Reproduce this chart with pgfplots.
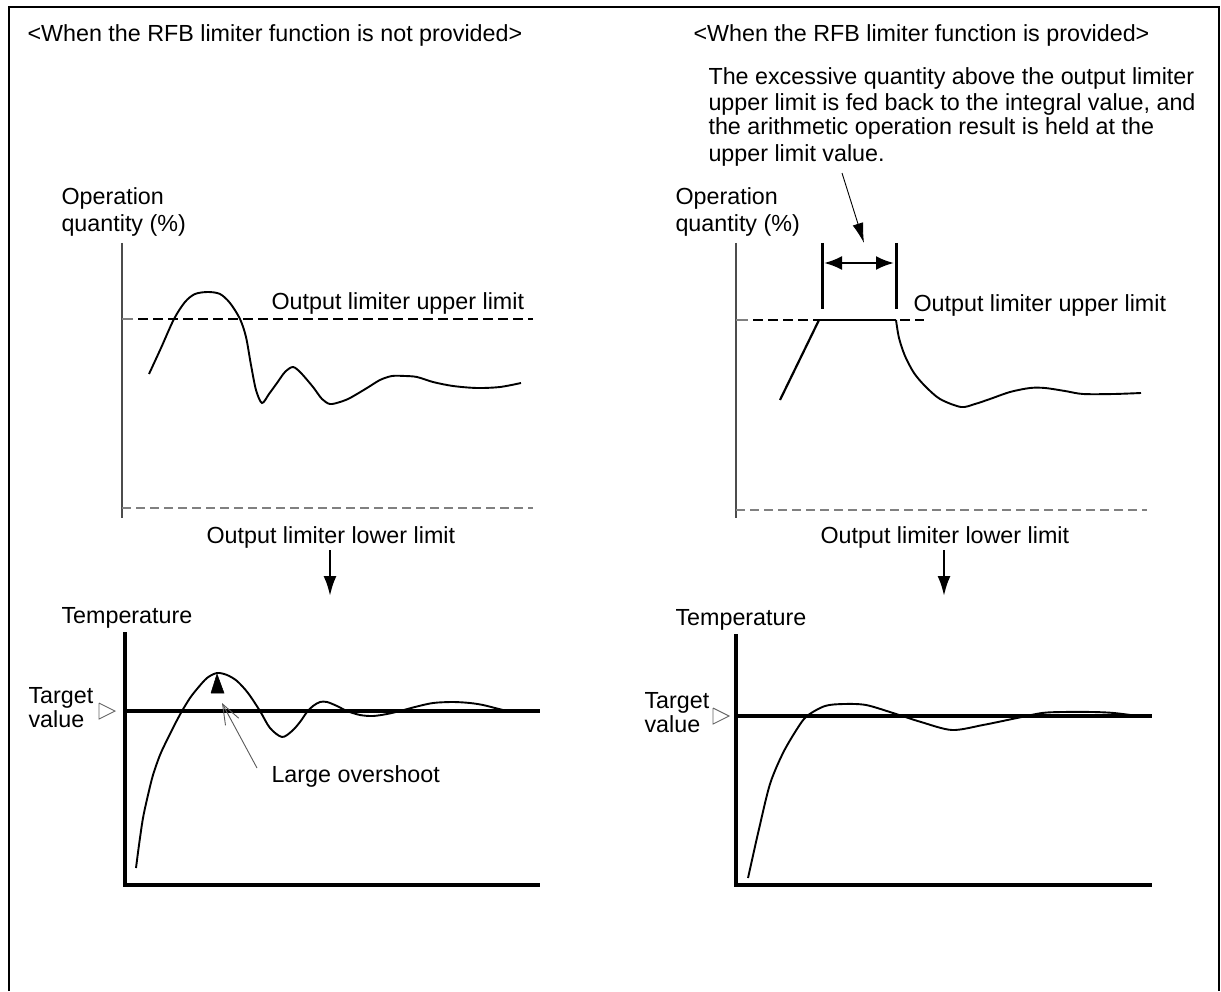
\documentclass[border=0pt]{standalone}
\usepackage{fontspec}
\setmainfont{Liberation Sans}
\usepackage{pgfplots}
\pgfplotsset{compat=1.18}
\usetikzlibrary{arrows.meta}
\newcommand\F{\fontsize{23.3pt}{25.6pt}\selectfont}
\begin{document}
\begin{tikzpicture}
\begin{axis}[x=1pt,y=1pt,y dir=reverse,xmin=0,xmax=1221,ymin=0,ymax=991,
  hide axis,clip=false,scale only axis,anchor=south west,at={(0,0)},
  every axis plot/.append style={mark=none}]
\addplot[draw=none] coordinates {(0,0)(1221,991)};
% frame
\addplot[black,line width=2pt] coordinates {(9,991)(9,7)(1219,7)(1219,991)};
% ---------- titles ----------
\node[anchor=base west,font=\F] at (axis cs:24,42) {<When the RFB limiter function is not provided>};
\node[anchor=base west,font=\F] at (axis cs:690,42) {<When the RFB limiter function is provided>};
\node[anchor=base west,font=\F] at (axis cs:705,85) {The excessive quantity above the output limiter};
\node[anchor=base west,font=\F] at (axis cs:705,111) {upper limit is fed back to the integral value, and};
\node[anchor=base west,font=\F] at (axis cs:705,135) {the arithmetic operation result is held at the};
\node[anchor=base west,font=\F] at (axis cs:705,162) {upper limit value.};
% ---------- LEFT UPPER ----------
\node[anchor=base west,font=\F] at (axis cs:58,205) {Operation};
\node[anchor=base west,font=\F] at (axis cs:58,232) {quantity (\%)};
\addplot[black!70,line width=1.3pt] coordinates {(122,243)(122,518)};
\addplot[gray,line width=1.3pt] coordinates {(122,319)(133,319)};
\addplot[black,line width=2.8pt,dash pattern=on 10pt off 5pt] coordinates {(138,319)(533,319)};
\addplot[gray,line width=1.3pt,dash pattern=on 9pt off 5pt] coordinates {(122,508)(533,508)};
\addplot[black,line width=1.9pt,smooth,tension=0.5] coordinates {(149,374)(161,348)(174,319)(185,302)(195,294)(208,292)(220,294)(230,303)(240,319)(246,337)(251,365)(256,390)(262,403)(269,394)(277,383)(285,372)(293,367)(301,373)(313,387)(322,399)(330,404)(340,402)(350,398)(367,388)(380,380)(392,376)(405,376)(417,377)(433,382)(453,386)(477,388)(500,387)(521,383)};
\node[anchor=base west,font=\F] at (axis cs:268,309) {Output limiter upper limit};
\node[anchor=base west,font=\F] at (axis cs:203,543) {Output limiter lower limit};
\addplot[black,line width=2.5pt,-{Latex[length=20pt,width=13pt]}] coordinates {(330,550)(330,596)};
% ---------- LEFT LOWER ----------
\node[anchor=base west,font=\F] at (axis cs:58,623) {Temperature};
\node[anchor=base west,font=\F] at (axis cs:25,703) {Target};
\node[anchor=base west,font=\F] at (axis cs:25,727) {value};
\addplot[gray!80!black,line width=0.9pt] coordinates {(99,703)(115,711)(99,719)(99,703)};
\addplot[black,line width=3.2pt] coordinates {(125,632)(125,885)(540,885)};
\addplot[black,line width=3.2pt] coordinates {(125,711)(540,711)};
\addplot[black,line width=1.9pt,smooth,tension=0.5] coordinates {(136,868)(139,845)(143,818)(148,795)(153,775)(160,755)(167,740)(175,724)(182,711)(190,698)(197,689)(207,678)(217,673)(227,675)(237,681)(248,693)(260,711)(270,728)(282,737)(292,731)(300,722)(307,712)(313,706)(320,702)(327,702)(337,706)(347,711)(360,715)(373,716)(387,714)(400,711)(415,707)(433,703)(453,702)(470,703)(483,705)(495,708)(507,711)};
\addplot[black,fill=black,line width=0.5pt] coordinates {(211,693)(217,674)(224,693)(211,693)};
\addplot[gray!70!black,line width=0.9pt,-{Straight Barb[length=20pt,width=15pt]}] coordinates {(257,768)(222,703)};
\node[anchor=base west,font=\F] at (axis cs:268,782) {Large overshoot};
% ---------- RIGHT UPPER ----------
\node[anchor=base west,font=\F] at (axis cs:672,205) {Operation};
\node[anchor=base west,font=\F] at (axis cs:672,232) {quantity (\%)};
\addplot[black,line width=0.9pt,-{Latex[length=20pt,width=11pt]}] coordinates {(842,173)(864,243)};
\addplot[black!70,line width=1.3pt] coordinates {(736,243)(736,518)};
\addplot[gray,line width=1.3pt] coordinates {(736,320)(748,320)};
\addplot[black,line width=2.8pt,dash pattern=on 10pt off 5pt] coordinates {(753,320)(818,320)};
\addplot[black,line width=2.8pt] coordinates {(818,320)(896,320)};
\addplot[black,line width=2.8pt,dash pattern=on 10pt off 5pt] coordinates {(900,320)(924,320)};
\addplot[gray,line width=1.3pt,dash pattern=on 9pt off 5pt] coordinates {(736,510)(1147,510)};
\addplot[black,line width=2.2pt] coordinates {(780,400)(819,320)};
\addplot[black,line width=1.9pt,smooth,tension=0.5] coordinates {(896,320)(899,338)(905,356)(914,373)(925,386)(940,399)(961,407)(975,404)(990,399)(1010,392)(1030,388)(1045,388)(1065,391)(1083,394)(1114,394)(1141,393)};
\addplot[black,line width=3pt] coordinates {(822,243)(822,309)};
\addplot[black,line width=3pt] coordinates {(896,243)(896,309)};
\addplot[black,line width=2.5pt,{Latex[length=18pt,width=14pt]}-{Latex[length=18pt,width=14pt]}] coordinates {(824,263)(894,263)};
\node[anchor=base west,font=\F] at (axis cs:910,312) {Output limiter upper limit};
\node[anchor=base west,font=\F] at (axis cs:817,543) {Output limiter lower limit};
\addplot[black,line width=2.5pt,-{Latex[length=20pt,width=13pt]}] coordinates {(944,550)(944,596)};
% ---------- RIGHT LOWER ----------
\node[anchor=base west,font=\F] at (axis cs:672,625) {Temperature};
\node[anchor=base west,font=\F] at (axis cs:641,708) {Target};
\node[anchor=base west,font=\F] at (axis cs:641,732) {value};
\addplot[gray!80!black,line width=0.9pt] coordinates {(713,708)(729,716)(713,724)(713,708)};
\addplot[black,line width=3.2pt] coordinates {(736,634)(736,885)(1152,885)};
\addplot[black,line width=3.2pt] coordinates {(736,716)(1152,716)};
\addplot[black,line width=1.9pt,smooth,tension=0.5] coordinates {(748,878)(752,860)(759,829)(770,784)(783,753)(797,729)(807,716)(825,706)(844,704)(866,705)(893,713)(921,722)(952,730)(983,725)(1017,718)(1042,713)(1062,712)(1093,712)(1114,713)(1138,716)};
\end{axis}
\end{tikzpicture}
\end{document}
